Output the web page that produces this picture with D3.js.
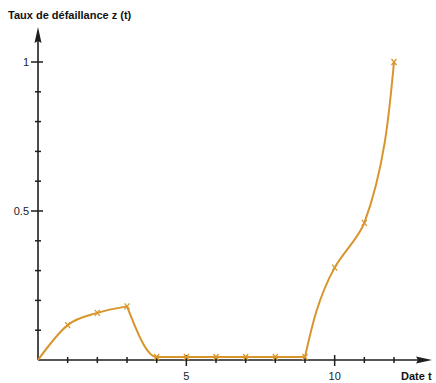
<!DOCTYPE html>
<html><head><meta charset="utf-8">
<script src="https://cdn.jsdelivr.net/npm/d3@7"></script>
<style>body{margin:0;background:#fff}svg{display:block}text{font-family:"Liberation Sans",Arial,sans-serif}</style>
</head><body>
<script>
const dates = [0,1,2,3,4,5,6,7,8,9,10,11,12];
const rates = [0,0.117,0.158,0.18,0.01,0.01,0.01,0.01,0.01,0.01,0.31,0.46,1.0];
const segments = [[0,3],[3,9],[9,12]]; // index ranges of smooth pieces
const xTicks = [1,2,3,4,5,6,7,8,9,10,11,12];
const xLabels = [5,10];
const yTicks = [0.1,0.2,0.3,0.4,0.5,0.6,0.7,0.8,0.9,1];
const yLabels = [{v:0.5,t:"0.5"},{v:1,t:"1"}];

const W=436,H=383;
const svg=d3.select("body").append("svg").attr("width",W).attr("height",H);
const x=d3.scaleLinear().domain([0,12]).range([38,394]);
const y=d3.scaleLinear().domain([0,1]).range([360,62]);
const axisCol="#1e1e1e", curveCol="#d8952c";

// axes lines
svg.append("line").attr("x1",x(0)).attr("x2",426).attr("y1",y(0)).attr("y2",y(0)).attr("stroke",axisCol).attr("stroke-width",1.6);
svg.append("line").attr("x1",x(0)).attr("x2",x(0)).attr("y1",y(0)).attr("y2",40).attr("stroke",axisCol).attr("stroke-width",1.6);
svg.append("path").attr("d",`M432,${y(0)} L416,${y(0)-3.5} L418,${y(0)} L416,${y(0)+3.5}Z`).attr("fill",axisCol);
svg.append("path").attr("d",`M${x(0)},27 L${x(0)-3.5},43 L${x(0)},41 L${x(0)+3.5},43Z`).attr("fill",axisCol);

// x ticks
svg.selectAll(".xt").data(xTicks).join("line")
 .attr("x1",d=>x(d)).attr("x2",d=>x(d))
 .attr("y1",d=>y(0)-(xLabels.includes(d)?5:3)).attr("y2",d=>y(0)+(xLabels.includes(d)?6:3))
 .attr("stroke",axisCol).attr("stroke-width",1.5);
svg.selectAll(".xl").data(xLabels).join("text")
 .attr("x",d=>x(d)).attr("y",380).attr("text-anchor","middle").attr("font-size",11).attr("fill","#222").text(d=>d);

// y ticks
const isMajor=v=>yLabels.some(l=>Math.abs(l.v-v)<1e-9);
svg.selectAll(".yt").data(yTicks).join("line")
 .attr("x1",d=>x(0)-(isMajor(d)?7:3)).attr("x2",d=>x(0)+(isMajor(d)?5:3))
 .attr("y1",d=>y(d)).attr("y2",d=>y(d))
 .attr("stroke",axisCol).attr("stroke-width",1.5);
svg.selectAll(".yl").data(yLabels).join("text")
 .attr("x",x(0)-9).attr("y",d=>y(d.v)+4).attr("text-anchor","end").attr("font-size",11).attr("fill","#222").text(d=>d.t);

// titles
svg.append("text").attr("x",8).attr("y",19).attr("font-size",11).attr("font-weight","bold").attr("fill","#111").text("Taux de défaillance z (t)");
svg.append("text").attr("x",401).attr("y",380).attr("font-size",11).attr("font-weight","bold").attr("fill","#111").text("Date t");

// curve
const curves=[d3.curveMonotoneX,d3.curveMonotoneX,d3.curveMonotoneY];
const pts=dates.map((d,i)=>[d,rates[i]]);
segments.forEach(([a,b],k)=>{
  const line=d3.line().x(d=>x(d[0])).y(d=>y(d[1])).curve(curves[k]);
  svg.append("path").attr("d",line(pts.slice(a,b+1))).attr("fill","none").attr("stroke",curveCol).attr("stroke-width",2);
});
// markers
pts.slice(1).forEach(p=>{
  const cx=x(p[0]),cy=y(p[1]);
  svg.append("path").attr("d",`M${cx-2.5},${cy-3}L${cx+2.5},${cy+3}M${cx+2.5},${cy-3}L${cx-2.5},${cy+3}`)
   .attr("stroke",curveCol).attr("stroke-width",1.3);
});
</script>
</body></html>
